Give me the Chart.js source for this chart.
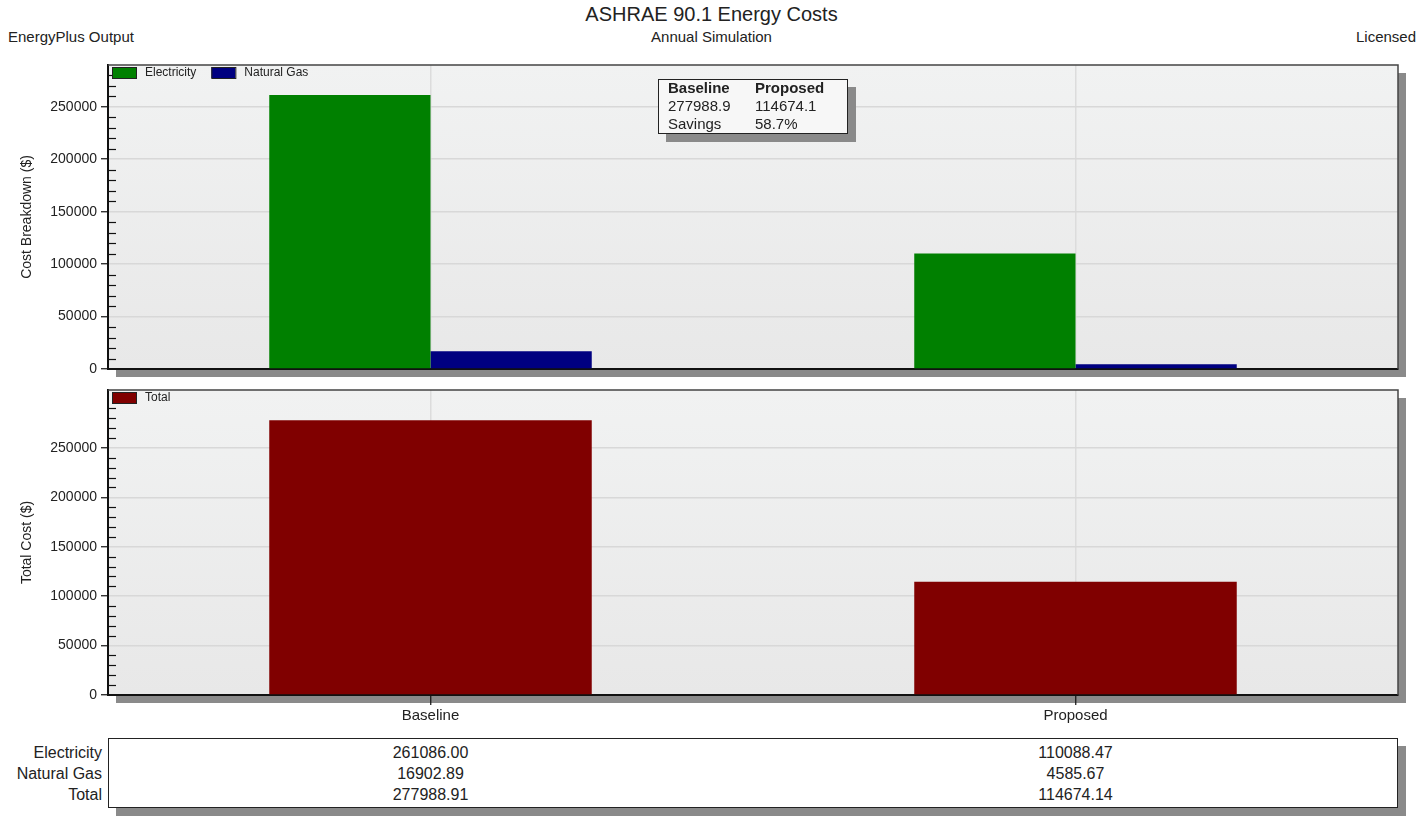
<!DOCTYPE html>
<html>
<head>
<meta charset="utf-8">
<title>ASHRAE 90.1 Energy Costs</title>
<script src="https://cdn.jsdelivr.net/npm/chart.js@4.4.0/dist/chart.umd.min.js"></script>
<style>
    body { margin: 0; background: #fff; font-family: "Liberation Sans", Arial, sans-serif; color: #222; }
    #page { position: relative; width: 1423px; height: 823px; overflow: hidden; }
    .abs { position: absolute; white-space: nowrap; }
    #title { left: 0; width: 1423px; top: 3px; text-align: center; font-size: 20px; }
    #subtitle { left: 0; width: 1423px; top: 28px; text-align: center; font-size: 15px; }
    #leftNote { left: 8px; top: 28px; font-size: 15px; }
    #rightNote { right: 7px; top: 28px; font-size: 15px; }
    canvas { position: absolute; left: 0; }
    #info { left: 658px; top: 79px; width: 188px; height: 53px; border: 1.5px solid #222; background: #f7f7f7;
            box-shadow: 8px 8px 0 #8a8a8a; font-size: 15px; line-height: 18px; }
    #info span { position: absolute; }
    #table { left: 108px; top: 738px; width: 1288px; height: 68px; border: 1.5px solid #222; background: #fff;
             box-shadow: 8px 8px 0 #8a8a8a; }
    .rowLabel { right: calc(1423px - 102px); font-size: 16px; text-align: right; }
    .cell { font-size: 16px; transform: translateX(-50%); }
</style>
</head>
<body>
<div id="page">
    <div class="abs" id="title">ASHRAE 90.1 Energy Costs</div>
    <div class="abs" id="subtitle">Annual Simulation</div>
    <div class="abs" id="leftNote">EnergyPlus Output</div>
    <div class="abs" id="rightNote">Licensed</div>

    <canvas id="breakdown-chart" width="1423" height="320" style="top:60px"></canvas>
    <canvas id="total-chart" width="1423" height="350" style="top:380px"></canvas>

    <div class="abs" id="info"></div>
    <div class="abs" id="table"></div>
    <div id="table-text"></div>
</div>

<script>
const categories = ["Baseline", "Proposed"];
const electricity = [261086.00, 110088.47];
const naturalGas = [16902.89, 4585.67];
const total = [277988.91, 114674.14];

const yTickValues = [0, 50000, 100000, 150000, 200000, 250000];
const breakdownMax = 289800;
const totalMax = 308600;
const majorStep = 50000;
const minorStep = 10000;

const colors = { electricity: "#008000", naturalGas: "#000080", total: "#800000" };

// fundo, sombra, borda, ticks menores e legenda dentro do painel
const panelPlugin = {
    id: "panel",
    beforeDraw(chart) {
        const { ctx, chartArea: a } = chart;
        ctx.save();
        ctx.fillStyle = "#8a8a8a";
        ctx.fillRect(a.left + 8, a.top + 8, a.right - a.left, a.bottom - a.top);
        const g = ctx.createLinearGradient(0, a.top, 0, a.bottom);
        g.addColorStop(0, "#f1f2f2");
        g.addColorStop(1, "#e8e8e8");
        ctx.fillStyle = g;
        ctx.fillRect(a.left, a.top, a.right - a.left, a.bottom - a.top);
        ctx.restore();
    },
    afterDraw(chart) {
        const { ctx, chartArea: a } = chart;
        const y = chart.scales.y;
        ctx.save();
        // borda superior e direita
        ctx.strokeStyle = "#444";
        ctx.lineWidth = 1.5;
        ctx.beginPath();
        ctx.moveTo(a.left, a.top);
        ctx.lineTo(a.right, a.top);
        ctx.lineTo(a.right, a.bottom);
        ctx.stroke();

        // ticks menores
        ctx.strokeStyle = "#111";
        ctx.lineWidth = 1.2;
        for (let v = minorStep; v < y.max; v += minorStep) {
            if (v % majorStep === 0) continue;
            const py = Math.round(y.getPixelForValue(v)) + 0.5;
            ctx.beginPath();
            ctx.moveTo(a.left, py);
            ctx.lineTo(a.left + 8, py);
            ctx.stroke();
        }

        // legenda
        ctx.font = "12px 'Liberation Sans', Arial, sans-serif";
        ctx.textBaseline = "middle";
        let x = a.left + 4;
        chart.data.datasets.forEach(ds => {
            ctx.fillStyle = ds.backgroundColor;
            ctx.fillRect(x, a.top + 2, 24, 11);
            ctx.strokeStyle = "#222";
            ctx.lineWidth = 1;
            ctx.strokeRect(x + 0.5, a.top + 2.5, 24, 11);
            ctx.fillStyle = "#222";
            ctx.fillText(ds.label, x + 33, a.top + 8);
            x += 33 + ctx.measureText(ds.label).width + 15;
        });
        ctx.restore();
    }
};

function makeOptions(yTitle, yMax, showX) {
    return {
        responsive: false,
        animation: false,
        layout: { padding: showX ? { left: 0, right: 25, top: 10, bottom: 0 } : { left: 0, right: 25, top: 5, bottom: 11 } },
        plugins: { legend: { display: false }, tooltip: { enabled: false } },
        datasets: { bar: { categoryPercentage: 0.5, barPercentage: 1.0, borderWidth: 0 } },
        scales: {
            x: {
                grid: { offset: false, color: "#dcdcdc", lineWidth: 1.5, drawTicks: showX, tickLength: 10, tickColor: "#111", tickWidth: 1.2 },
                border: { display: true, color: "#111", width: 2 },
                ticks: { display: showX, color: "#222", font: { size: 15, family: "'Liberation Sans', Arial, sans-serif" }, padding: 2 },
                afterFit(scale) {
                    scale.height = showX ? 35 : 0;
                    scale.paddingLeft = 0;
                    scale.paddingRight = 0;
                }
            },
            y: {
                min: 0,
                max: yMax,
                afterBuildTicks(scale) { scale.ticks = yTickValues.map(v => ({ value: v })); },
                ticks: { color: "#222", padding: 4, callback: v => String(v),
                         font: { size: 14, family: "'Liberation Sans', Arial, sans-serif" } },
                grid: { color: "#d8d8d8", lineWidth: 1.5, tickLength: 7, tickColor: "#111", tickWidth: 1.2 },
                border: { display: true, color: "#111", width: 2 },
                title: { display: true, text: yTitle, color: "#222", padding: { top: 19, bottom: 0 },
                         font: { size: 14, family: "'Liberation Sans', Arial, sans-serif" } },
                afterFit(scale) {
                    scale.width = 108;
                    scale.paddingTop = 0;
                    scale.paddingBottom = 0;
                }
            }
        }
    };
}

const breakdownChart = new Chart(document.getElementById("breakdown-chart").getContext("2d"), {
    type: "bar",
    data: {
        labels: categories,
        datasets: [
            { label: "Electricity", data: electricity, backgroundColor: colors.electricity },
            { label: "Natural Gas", data: naturalGas, backgroundColor: colors.naturalGas }
        ]
    },
    options: makeOptions("Cost Breakdown ($)", breakdownMax, false),
    plugins: [panelPlugin]
});

const totalChart = new Chart(document.getElementById("total-chart").getContext("2d"), {
    type: "bar",
    data: {
        labels: categories,
        datasets: [{ label: "Total", data: total, backgroundColor: colors.total }]
    },
    options: makeOptions("Total Cost ($)", totalMax, true),
    plugins: [panelPlugin]
});

// caixa de resumo
const savings = (1 - total[1] / total[0]) * 100;
const info = document.getElementById("info");
info.innerHTML = `
    <span style="left:9px;top:-1px;font-weight:bold">Baseline</span>
    <span style="left:96px;top:-1px;font-weight:bold">Proposed</span>
    <span style="left:9px;top:17px">${total[0].toFixed(1)}</span>
    <span style="left:96px;top:17px">${total[1].toFixed(1)}</span>
    <span style="left:9px;top:35px">Savings</span>
    <span style="left:96px;top:35px">${savings.toFixed(1)}%</span>`;

// tabela de valores
const rows = [["Electricity", electricity], ["Natural Gas", naturalGas], ["Total", total]];
const tableText = document.getElementById("table-text");
const xScale = totalChart.scales.x;
rows.forEach(([name, vals], r) => {
    const top = 744 + r * 21;
    tableText.innerHTML += `<div class="abs rowLabel" style="top:${top}px">${name}</div>`;
    vals.forEach((v, i) => {
        const px = xScale.getPixelForValue(i);
        tableText.innerHTML += `<div class="abs cell" style="top:${top}px;left:${px}px">${v.toFixed(2)}</div>`;
    });
});
</script>
</body>
</html>
